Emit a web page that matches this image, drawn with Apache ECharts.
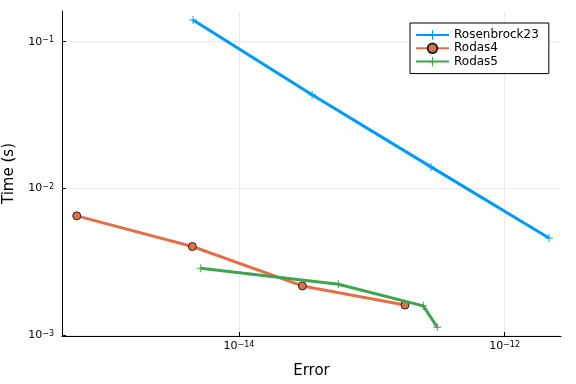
<!DOCTYPE html>
<html>
<head>
<meta charset="utf-8">
<script src="https://cdn.jsdelivr.net/npm/echarts@6/dist/echarts.min.js"></script>
<style>html,body{margin:0;padding:0;background:#fff}#c{width:576px;height:384px}</style>
</head>
<body>
<div id="c"></div>
<script>
// Data
const seriesNames = ['Rosenbrock23', 'Rodas4', 'Rodas5'];
const rosenbrock23Error = [4.51e-15, 3.55e-14, 2.79e-13, 2.16e-12];
const rosenbrock23Time  = [0.1406, 0.0434, 0.0140, 0.00459];
const rodas4Error = [6.0e-16, 4.45e-15, 3.0e-14, 1.78e-13];
const rodas4Time  = [0.00649, 0.00401, 0.00216, 0.00160];
const rodas5Error = [5.15e-15, 5.6e-14, 2.44e-13, 3.11e-13];
const rodas5Time  = [0.00285, 0.00222, 0.00158, 0.00113];
const xTicks = [1e-14, 1e-12];
const yTicks = [1e-3, 1e-2, 1e-1];

const colors = ['#009AFA', '#E36F47', '#3EA44E'];
const plus = 'path://M4.4,0h1.2v4.4h4.4v1.2h-4.4v4.4h-1.2v-4.4h-4.4v-1.2h4.4z';
const font = 'DejaVu Sans';

function pairs(xs, ys) { return xs.map((x, i) => [x, ys[i]]); }
function sup(v) {
  const e = Math.round(Math.log10(v));
  return '{b|10}{s|' + String(e).replace('-', '\u2212') + '}';
}
const rich = {
  b: {fontSize: 11, lineHeight: 11, verticalAlign: 'bottom', padding: [5, 0, 0, 0], fontFamily: font, color: '#000'},
  s: {fontSize: 8, lineHeight: 8, verticalAlign: 'top', fontFamily: font, color: '#000'}
};

const chart = echarts.init(document.getElementById('c'), null, {renderer: 'canvas'});
chart.setOption({
  animation: false,
  backgroundColor: '#fff',
  textStyle: {fontFamily: font},
  grid: {left: 62, right: 15, top: 11, bottom: 48, containLabel: false, outerBoundsMode: 'none'},
  legend: {
    left: 410, top: 23, orient: 'vertical',
    data: seriesNames,
    backgroundColor: '#fff', borderColor: '#000', borderWidth: 1, borderRadius: 0,
    padding: [6, 10, 6, 5], itemGap: 1.3, itemWidth: 33, itemHeight: 12,
    textStyle: {fontFamily: font, fontSize: 12, color: '#000'}
  },
  xAxis: {
    type: 'log', logBase: 10,
    min: Math.pow(10, -15.333), max: Math.pow(10, -11.575),
    name: 'Error', nameLocation: 'middle', nameGap: 28,
    nameTextStyle: {fontFamily: font, fontSize: 15, color: '#000'},
    axisLine: {show: true, lineStyle: {color: '#000', width: 1}},
    axisTick: {show: true, inside: true, length: 4, lineStyle: {color: '#000'}, customValues: xTicks},
    axisLabel: {
      fontFamily: font, fontSize: 11, color: '#000', margin: 5,
      customValues: xTicks, formatter: v => sup(v), rich: rich
    },
    splitLine: {show: true, lineStyle: {color: '#ebebeb', width: 1}, customValues: xTicks}
  },
  yAxis: {
    type: 'log', logBase: 10,
    min: Math.pow(10, -3.007), max: Math.pow(10, -0.791),
    name: 'Time (s)', nameLocation: 'middle', nameGap: 45, nameRotate: 90,
    nameTextStyle: {fontFamily: font, fontSize: 15, color: '#000'},
    axisLine: {show: true, lineStyle: {color: '#000', width: 1}},
    axisTick: {show: true, inside: true, length: 4, lineStyle: {color: '#000'}, customValues: yTicks},
    axisLabel: {
      fontFamily: font, fontSize: 11, color: '#000', margin: 8,
      customValues: yTicks, formatter: v => sup(v), rich: rich
    },
    splitLine: {show: true, lineStyle: {color: '#ebebeb', width: 1}, customValues: yTicks}
  },
  series: [
    {name: seriesNames[0], type: 'line', data: pairs(rosenbrock23Error, rosenbrock23Time),
     color: colors[0], lineStyle: {width: 3, color: colors[0]},
     symbol: plus, symbolSize: 8, itemStyle: {color: colors[0]}, z: 2},
    {name: seriesNames[1], type: 'line', data: pairs(rodas4Error, rodas4Time),
     color: colors[1], lineStyle: {width: 3, color: colors[1]},
     symbol: 'circle', symbolSize: 8, itemStyle: {color: colors[1], borderColor: '#222', borderWidth: 1}, z: 3},
    {name: seriesNames[2], type: 'line', data: pairs(rodas5Error, rodas5Time),
     color: colors[2], lineStyle: {width: 3, color: colors[2]},
     symbol: plus, symbolSize: 8, itemStyle: {color: colors[2]}, z: 4}
  ]
});
</script>
</body>
</html>
